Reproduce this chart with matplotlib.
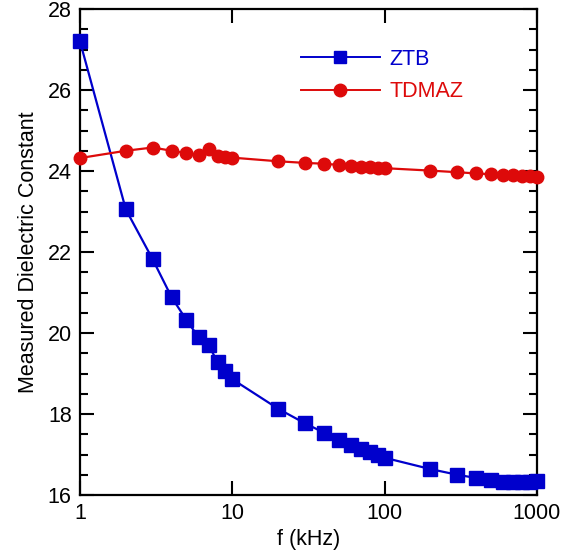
import numpy as np
import matplotlib
matplotlib.use("Agg")
import matplotlib.pyplot as plt
from matplotlib.ticker import FixedLocator, NullLocator, MultipleLocator

plt.rcParams["font.family"] = ["Liberation Sans", "DejaVu Sans"]

freq_ztb = [1, 2, 3, 4, 5, 6, 7, 8, 9, 10, 20, 30, 40, 50, 60, 70, 80, 90, 100,
            200, 300, 400, 500, 600, 700, 800, 900, 1000]
eps_ztb = [27.2, 23.05, 21.82, 20.88, 20.32, 19.9, 19.7, 19.28, 19.06, 18.86,
           18.13, 17.77, 17.54, 17.37, 17.24, 17.13, 17.05, 16.99, 16.92,
           16.64, 16.5, 16.42, 16.37, 16.33, 16.31, 16.31, 16.32, 16.34]

freq_tdmaz = [1, 2, 3, 4, 5, 6, 7, 8, 9, 10, 20, 30, 40, 50, 60, 70, 80, 90, 100,
              200, 300, 400, 500, 600, 700, 800, 900, 1000]
eps_tdmaz = [24.32, 24.5, 24.58, 24.5, 24.44, 24.4, 24.54, 24.38, 24.35, 24.33,
             24.24, 24.2, 24.18, 24.15, 24.12, 24.11, 24.09, 24.08, 24.07,
             24.01, 23.97, 23.94, 23.92, 23.9, 23.89, 23.88, 23.87, 23.85]

BLUE = "#0000cc"
RED = "#dd0a0a"
FS = 15.5

fig = plt.figure(figsize=(5.61, 5.56), dpi=100)
ax = fig.add_axes([0.1426, 0.1097, 0.8144, 0.8741])

ax.plot(freq_ztb, eps_ztb, color=BLUE, lw=1.6, marker="s", ms=9.5, label="ZTB", clip_on=False, zorder=3)
ax.plot(freq_tdmaz, eps_tdmaz, color=RED, lw=1.6, marker="o", ms=9, label="TDMAZ", clip_on=False, zorder=3)

ax.set_xscale("log")
ax.set_xlim(1, 1000)
ax.set_ylim(16, 28)
ax.xaxis.set_major_locator(FixedLocator([1, 10, 100, 1000]))
ax.xaxis.set_minor_locator(NullLocator())
ax.set_xticklabels(["1", "10", "100", "1000"])
ax.yaxis.set_major_locator(MultipleLocator(2))
ax.yaxis.set_minor_locator(MultipleLocator(0.5))

ax.tick_params(which="both", direction="in", top=True, right=True, labelsize=FS, width=1.5)
ax.tick_params(which="major", length=10, pad=6)
ax.tick_params(which="minor", length=6)
for s in ax.spines.values():
    s.set_linewidth(1.6)

ax.set_xlabel("f (kHz)", fontsize=FS, labelpad=3)
ax.set_ylabel("Measured Dielectric Constant", fontsize=FS, labelpad=6)

leg = ax.legend(loc="upper left", bbox_to_anchor=(0.483, 0.918), frameon=False,
                fontsize=FS, handlelength=3.7, labelcolor="linecolor",
                borderaxespad=0, borderpad=0, handletextpad=0.42, labelspacing=0.52)
for h in leg.legend_handles:
    h.set_markersize(9)
    h.set_linewidth(1.4)

fig.savefig("out.png", dpi=100)
